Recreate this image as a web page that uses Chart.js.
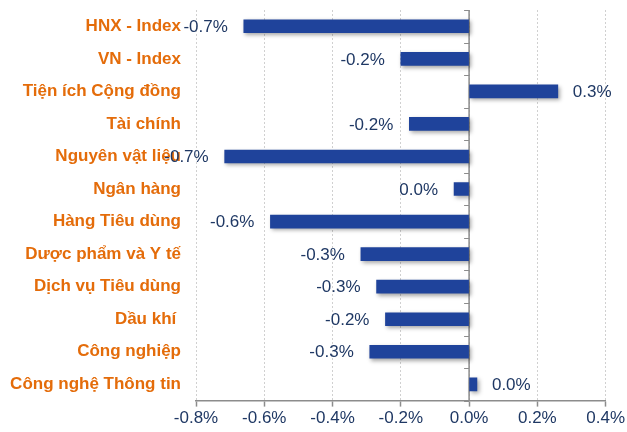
<!DOCTYPE html>
<html>
<head>
<meta charset="utf-8">
<script src="https://cdn.jsdelivr.net/npm/chart.js@4/dist/chart.umd.min.js"></script>
<style>
html,body{margin:0;padding:0;background:#fff;}
#wrap{width:627px;height:432px;position:relative;}
</style>
</head>
<body>
<div id="wrap"><canvas id="c" width="627" height="432"></canvas></div>
<script>
const categories = ["HNX - Index","VN - Index","Tiện ích Cộng đồng","Tài chính","Nguyên vật liệu","Ngân hàng","Hàng Tiêu dùng","Dược phẩm và Y tế","Dịch vụ Tiêu dùng","Dầu khí ","Công nghiệp","Công nghệ Thông tin"];
const values = [-0.66, -0.20, 0.26, -0.175, -0.716, -0.044, -0.582, -0.317, -0.271, -0.245, -0.291, 0.023];
const xTicks = [-0.8, -0.6, -0.4, -0.2, 0.0, 0.2, 0.4];

const BAR = '#1F439B';
const NAVY = '#1F3864';
const ORANGE = '#E46C0A';
const FONT = '"Liberation Sans", Arial, sans-serif';

function fmt(v){
  let s = v.toFixed(1);
  if (s === '-0.0') s = '0.0';
  return s + '%';
}

const overlay = {
  id: 'overlay',
  beforeDatasetsDraw(chart){
    const {ctx, chartArea, scales} = chart;
    const x0 = scales.x.getPixelForValue(0);
    ctx.save();
    ctx.strokeStyle = '#8C8C8C';
    ctx.lineWidth = 1.5;
    ctx.beginPath();
    ctx.moveTo(x0, chartArea.top);
    ctx.lineTo(x0, chartArea.bottom);
    ctx.stroke();
    ctx.lineWidth = 1;
    const n = categories.length;
    for (let i = 0; i <= n; i++){
      const y = scales.y.getPixelForValue(i - 0.5);
      ctx.beginPath();
      ctx.moveTo(x0 - 5, Math.round(y) + 0.5);
      ctx.lineTo(x0, Math.round(y) + 0.5);
      ctx.stroke();
    }
    ctx.restore();
  },
  afterDatasetsDraw(chart){
    const {ctx} = chart;
    const meta = chart.getDatasetMeta(0);
    ctx.save();
    ctx.font = '17px ' + FONT;
    ctx.fillStyle = NAVY;
    ctx.textBaseline = 'middle';
    meta.data.forEach((bar, i) => {
      const v = values[i];
      if (v < 0){
        ctx.textAlign = 'right';
        ctx.fillText(fmt(v), bar.x - 16, bar.y + 1);
      } else {
        ctx.textAlign = 'left';
        ctx.fillText(fmt(v), bar.x + 15, bar.y + 1);
      }
    });
    ctx.restore();
  }
};

const shadow = {
  id: 'shadow',
  beforeDatasetDraw(chart){
    const ctx = chart.ctx;
    ctx.save();
    ctx.shadowColor = 'rgba(0,0,0,0.35)';
    ctx.shadowBlur = 4;
    ctx.shadowOffsetX = 2;
    ctx.shadowOffsetY = 2;
  },
  afterDatasetDraw(chart){
    chart.ctx.restore();
  }
};

new Chart(document.getElementById('c'), {
  type: 'bar',
  data: {
    labels: categories,
    datasets: [{
      data: values,
      backgroundColor: BAR,
      borderWidth: 0,
      barThickness: 13
    }]
  },
  plugins: [shadow, overlay],
  options: {
    indexAxis: 'y',
    responsive: false,
    animation: false,
    devicePixelRatio: 1,
    layout: {padding: {top: 10, bottom: 1, right: 0, left: 0}},
    plugins: {legend: {display: false}, tooltip: {enabled: false}},
    scales: {
      x: {
        min: -0.8, max: 0.4,
        afterBuildTicks(scale){ scale.ticks = xTicks.map(v => ({value: v})); },
        grid: {
          color: '#D0D0D0',
          lineWidth: 1,
          drawTicks: true,
          tickLength: 6,
          tickColor: '#8C8C8C',
          tickBorderDash: [],
          tickWidth: 1.5
        },
        border: {display: true, color: '#8C8C8C', width: 1.5, dash: [2, 2]},
        ticks: {
          color: NAVY,
          font: {family: FONT, size: 17},
          padding: 2,
          callback: (v) => fmt(v)
        }
      },
      y: {
        afterFit(scale){ scale.width = 196; scale.paddingTop = 0; scale.paddingBottom = 0; },
        grid: {display: false, drawTicks: false},
        border: {display: false},
        ticks: {
          color: ORANGE,
          font: {family: FONT, size: 17, weight: 'bold'},
          padding: 15
        }
      }
    }
  }
});
</script>
</body>
</html>
